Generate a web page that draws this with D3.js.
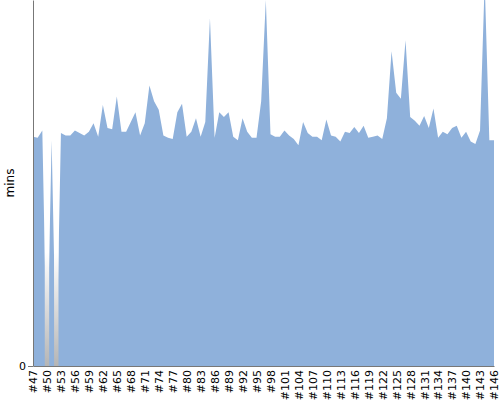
<!DOCTYPE html>
<html>
<head>
<meta charset="utf-8">
<script src="https://cdn.jsdelivr.net/npm/d3@7"></script>
<style>
    body { margin: 0; background: #fff; }
    text { font-family: "DejaVu Sans", sans-serif; }
    .axis path, .axis line { stroke: #777; }
    .axis text { fill: #000; font-size: 11px; }
</style>
</head>
<body>
<div id="chart"></div>
<script>
// Episode labels (#47 .. #146)
const episodes = d3.range(47, 147).map((n) => "#" + n);
// Durations in minutes (0 = missing episode)
const minutes = [
    18.8, 18.7, 19.3, 0, 18.5, 0, 19.1, 18.9, 18.9, 19.3,
    19.1, 18.9, 19.2, 19.9, 18.8, 21.4, 19.5, 19.4, 22.1, 19.2,
    19.2, 20.0, 20.8, 18.9, 19.9, 23.0, 21.7, 21.0, 18.9, 18.7,
    18.6, 20.8, 21.5, 18.8, 19.2, 20.3, 18.8, 20.0, 28.5, 18.7,
    20.8, 20.4, 20.8, 18.8, 18.5, 20.3, 19.2, 18.7, 18.7, 21.7,
    30.0, 19.0, 18.8, 18.8, 19.3, 18.9, 18.6, 18.1, 20.0, 19.1,
    18.8, 18.8, 18.5, 20.2, 18.9, 18.8, 18.4, 19.2, 19.1, 19.6,
    19.1, 19.7, 18.7, 18.8, 18.9, 18.6, 20.3, 25.8, 22.4, 21.9,
    26.7, 20.4, 20.1, 19.7, 20.5, 19.5, 21.1, 18.7, 19.2, 19.0,
    19.5, 19.7, 18.7, 19.2, 18.4, 18.2, 19.3, 31.5, 18.5, 18.5
];
const yMax = 30;

const width = 500, height = 400;
const plotLeft = 33, plotRight = 494, plotTop = 0, plotBottom = 366;

let data = episodes.map((e, i) => ({ episode: e, mins: minutes[i] }));

let svg = d3.select("#chart")
    .append("svg")
    .attr("width", width)
    .attr("height", height);

let x = d3.scalePoint().domain(episodes).range([plotLeft, plotRight]);
let y = d3.scaleLinear().domain([0, yMax]).range([plotBottom, plotTop]);

let defs = svg.append("defs");
defs.append("clipPath").attr("id", "plot-clip")
    .append("rect")
    .attr("x", plotLeft).attr("y", plotTop)
    .attr("width", plotRight - plotLeft + 2).attr("height", plotBottom - plotTop);

// Gradient used to mark missing episodes (grey at the bottom, fading out upwards)
let grad = defs.append("linearGradient")
    .attr("id", "missing")
    .attr("x1", 0).attr("y1", 1).attr("x2", 0).attr("y2", 0);
grad.append("stop").attr("offset", "0%").attr("stop-color", "#b5b5b5").attr("stop-opacity", 1);
grad.append("stop").attr("offset", "50%").attr("stop-color", "#ffffff").attr("stop-opacity", 1);
grad.append("stop").attr("offset", "100%").attr("stop-color", "#ffffff").attr("stop-opacity", 0);

let plot = svg.append("g").attr("clip-path", "url(#plot-clip)");

// Area
let area = d3.area()
    .x((d) => x(d.episode))
    .y0(y(0))
    .y1((d) => y(d.mins));

plot.append("path")
    .datum(data)
    .attr("d", area)
    .attr("fill", "#8fb1db");

// Missing markers drawn over the dips
plot.selectAll("rect.missing")
    .data(data.filter((d) => d.mins === 0))
    .enter()
    .append("rect")
    .attr("class", "missing")
    .attr("x", (d) => x(d.episode) - 2.2)
    .attr("y", y(yMax * 0.62))
    .attr("width", 4.4)
    .attr("height", plotBottom - y(yMax * 0.62))
    .attr("fill", "url(#missing)");

// X axis, every third episode
svg.append("g")
    .attr("class", "axis")
    .attr("transform", `translate(0,${plotBottom})`)
    .call(d3.axisBottom(x)
        .tickValues(episodes.filter((e, i) => i % 3 === 0))
        .tickSize(0)
        .tickPadding(0))
    .selectAll("text")
    .attr("transform", "rotate(-90)")
    .attr("text-anchor", "end")
    .attr("x", -4)
    .attr("y", 0)
    .attr("dy", "0.35em");

// Y axis, zero only
svg.append("g")
    .attr("class", "axis")
    .attr("transform", `translate(${plotLeft},0)`)
    .call(d3.axisLeft(y).tickValues([0]).tickSize(5).tickSizeOuter(0).tickPadding(2));

// Y axis title
svg.append("text")
    .attr("transform", `translate(14,${(plotTop + plotBottom) / 2}) rotate(-90)`)
    .attr("text-anchor", "middle")
    .style("font-size", "12px")
    .text("mins");
</script>
</body>
</html>
